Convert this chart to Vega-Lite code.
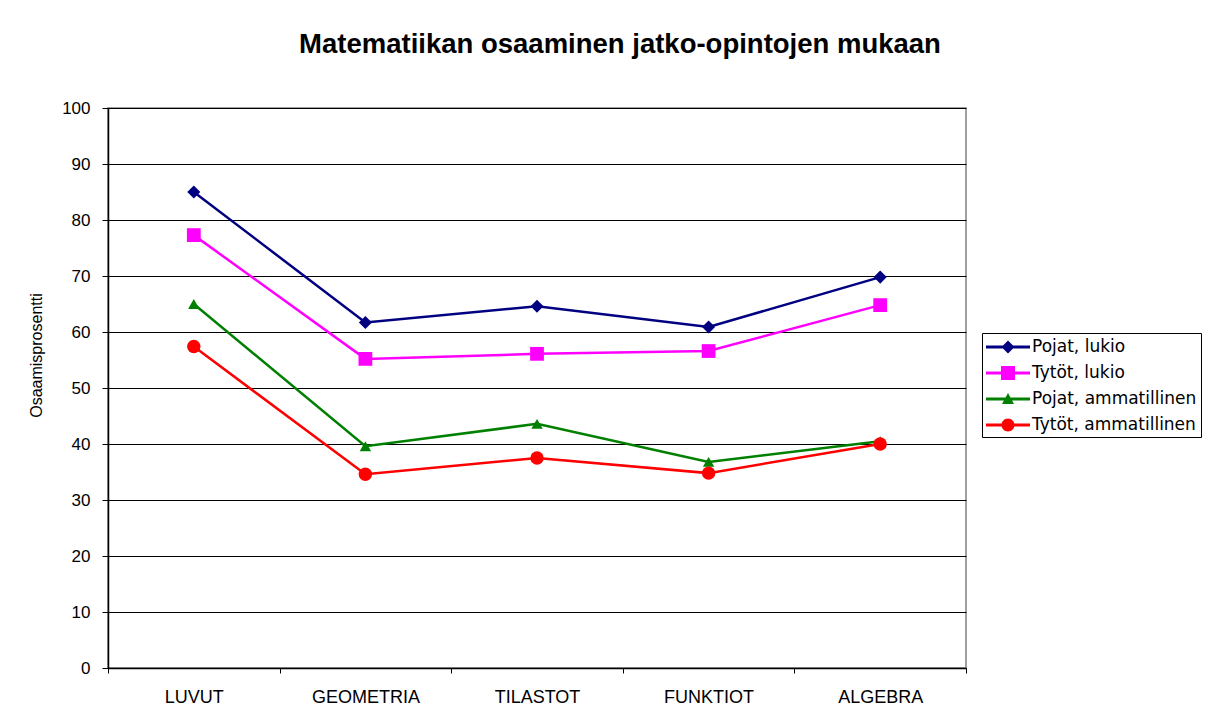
{
  "$schema": "https://vega.github.io/schema/vega-lite/v6.json",
  "width": 858,
  "height": 560,
  "autosize": {"type": "none"},
  "padding": {"left": 108, "top": 108, "right": 260, "bottom": 56},
  "background": "white",
  "title": {
    "text": "Matematiikan osaaminen jatko-opintojen mukaan",
    "font": "Liberation Sans",
    "fontSize": 27.5,
    "fontWeight": "bold",
    "color": "black",
    "anchor": "middle",
    "frame": "group",
    "dx": 83,
    "offset": 41
  },
  "data": {
    "values": [
      {"aihe": "LUVUT", "ryhma": "Pojat, lukio", "arvo": 85.0},
      {"aihe": "GEOMETRIA", "ryhma": "Pojat, lukio", "arvo": 61.7},
      {"aihe": "TILASTOT", "ryhma": "Pojat, lukio", "arvo": 64.6},
      {"aihe": "FUNKTIOT", "ryhma": "Pojat, lukio", "arvo": 60.9},
      {"aihe": "ALGEBRA", "ryhma": "Pojat, lukio", "arvo": 69.8},
      {"aihe": "LUVUT", "ryhma": "Tytöt, lukio", "arvo": 77.3},
      {"aihe": "GEOMETRIA", "ryhma": "Tytöt, lukio", "arvo": 55.2},
      {"aihe": "TILASTOT", "ryhma": "Tytöt, lukio", "arvo": 56.1},
      {"aihe": "FUNKTIOT", "ryhma": "Tytöt, lukio", "arvo": 56.6},
      {"aihe": "ALGEBRA", "ryhma": "Tytöt, lukio", "arvo": 64.8},
      {"aihe": "LUVUT", "ryhma": "Pojat, ammatillinen", "arvo": 65.0},
      {"aihe": "GEOMETRIA", "ryhma": "Pojat, ammatillinen", "arvo": 39.6},
      {"aihe": "TILASTOT", "ryhma": "Pojat, ammatillinen", "arvo": 43.6},
      {"aihe": "FUNKTIOT", "ryhma": "Pojat, ammatillinen", "arvo": 36.8},
      {"aihe": "ALGEBRA", "ryhma": "Pojat, ammatillinen", "arvo": 40.5},
      {"aihe": "LUVUT", "ryhma": "Tytöt, ammatillinen", "arvo": 57.4},
      {"aihe": "GEOMETRIA", "ryhma": "Tytöt, ammatillinen", "arvo": 34.6},
      {"aihe": "TILASTOT", "ryhma": "Tytöt, ammatillinen", "arvo": 37.5},
      {"aihe": "FUNKTIOT", "ryhma": "Tytöt, ammatillinen", "arvo": 34.8},
      {"aihe": "ALGEBRA", "ryhma": "Tytöt, ammatillinen", "arvo": 40.0}
    ]
  },
  "encoding": {
    "x": {
      "field": "aihe",
      "type": "nominal",
      "sort": ["LUVUT", "GEOMETRIA", "TILASTOT", "FUNKTIOT", "ALGEBRA"],
      "scale": {"type": "band", "paddingInner": 0, "paddingOuter": 0},
      "axis": {
        "title": null,
        "labelAngle": 0,
        "tickBand": "extent",
        "labelFont": "Liberation Sans",
        "labelFontSize": 18,
        "labelColor": "black",
        "labelPadding": 15,
        "tickSize": 5,
        "tickColor": "black",
        "domainColor": "black",
        "domainWidth": 1.5,
        "grid": false
      }
    },
    "y": {
      "field": "arvo",
      "type": "quantitative",
      "scale": {"domain": [0, 100], "nice": false},
      "axis": {
        "title": "Osaamisprosentti",
        "titleFont": "Liberation Sans",
        "titleFontSize": 16,
        "titleFontWeight": "normal",
        "titleColor": "black",
        "titlePadding": 17,
        "titleY": 247,
        "values": [0, 10, 20, 30, 40, 50, 60, 70, 80, 90, 100],
        "labelFont": "Liberation Sans",
        "labelFontSize": 17,
        "labelColor": "black",
        "labelPadding": 12,
        "tickSize": 6,
        "tickColor": "black",
        "domainColor": "black",
        "domainWidth": 1.5,
        "grid": true,
        "gridColor": "black",
        "gridWidth": 1,
        "gridOpacity": 1
      }
    },
    "color": {
      "field": "ryhma",
      "type": "nominal",
      "scale": {
        "domain": ["Pojat, lukio", "Tytöt, lukio", "Pojat, ammatillinen", "Tytöt, ammatillinen"],
        "range": ["#000080", "#FF00FF", "#008000", "#FF0000"]
      },
      "legend": {
        "title": null,
        "orient": "none",
        "legendX": 874,
        "legendY": 225,
        "padding": 4,
        "strokeColor": "black",
        "fillColor": "white",
        "symbolSize": 400,
        "symbolStrokeWidth": 0,
        "symbolOpacity": 1,
        "labelOffset": 26,
        "labelLimit": 400,
        "labelFont": "DejaVu Sans",
        "labelFontSize": 17,
        "labelColor": "black",
        "rowPadding": 8,
        "encode": {
          "symbols": {
            "update": {
              "shape": {
                "signal": "datum.value === 'Pojat, lukio' ? 'M-1,-0.15H3.4V0.15H-1Z M1.2,-0.65L1.85,0L1.2,0.65L0.55,0Z' : datum.value === 'Tytöt, lukio' ? 'M-1,-0.15H3.4V0.15H-1Z M0.5,-0.7H1.9V0.7H0.5Z' : datum.value === 'Pojat, ammatillinen' ? 'M-1,-0.15H3.4V0.15H-1Z M1.2,-0.6L1.8,0.5L0.6,0.5Z' : 'M-1,-0.15H3.4V0.15H-1Z M0.55,0A0.65,0.65 0 1,1 1.85,0A0.65,0.65 0 1,1 0.55,0Z'"
              },
              "fill": {"scale": "color", "field": "value"},
              "fillOpacity": {"value": 1},
              "strokeWidth": {"value": 0}
            }
          }
        }
      }
    }
  },
  "layer": [
    {
      "mark": {"type": "line", "strokeWidth": 2.5}
    },
    {
      "transform": [{"filter": "datum.ryhma === 'Pojat, lukio'"}],
      "mark": {"type": "point", "shape": "diamond", "filled": true, "opacity": 1, "size": 170}
    },
    {
      "transform": [{"filter": "datum.ryhma === 'Tytöt, lukio'"}],
      "mark": {"type": "point", "shape": "square", "filled": true, "opacity": 1, "size": 190}
    },
    {
      "transform": [{"filter": "datum.ryhma === 'Pojat, ammatillinen'"}],
      "mark": {"type": "point", "shape": "triangle-up", "filled": true, "opacity": 1, "size": 130}
    },
    {
      "transform": [{"filter": "datum.ryhma === 'Tytöt, ammatillinen'"}],
      "mark": {"type": "point", "shape": "circle", "filled": true, "opacity": 1, "size": 180}
    }
  ],
  "config": {
    "view": {"stroke": "#808080", "strokeWidth": 1.5},
    "font": "Liberation Sans"
  }
}
